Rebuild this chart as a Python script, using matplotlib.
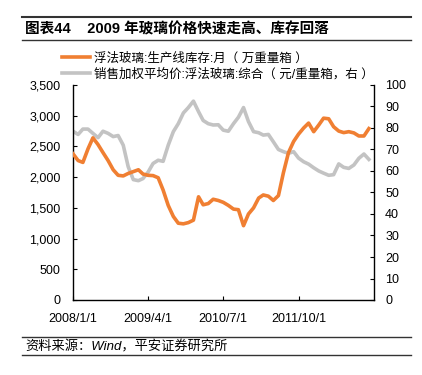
import matplotlib
matplotlib.use("Agg")
import matplotlib.pyplot as plt
import pandas as pd

plt.rcParams['font.family'] = ['Liberation Sans', 'Noto Sans CJK SC', 'DejaVu Sans']

# 月度数据 2008/1 - 2012/12
months = pd.date_range("2008-01-01", periods=60, freq="MS")

inventory = [2380, 2270, 2240, 2460, 2640, 2530, 2400, 2270, 2120, 2030,
             2020, 2060, 2090, 2120, 2050, 2030, 2025, 1990, 1790, 1540,
             1360, 1250, 1240, 1260, 1300, 1680, 1550, 1570, 1640, 1620,
             1590, 1540, 1480, 1470, 1210, 1400, 1500, 1660, 1710, 1690,
             1620, 1700, 2070, 2400, 2580, 2700, 2800, 2880, 2740, 2850,
             2960, 2950, 2820, 2750, 2725, 2740, 2720, 2670, 2670, 2790]

price = [78.5, 77.0, 79.5, 79.5, 77.5, 75.5, 78.5, 77.5, 76.0, 76.5,
         72.0, 62.0, 56.0, 55.5, 56.5, 59.5, 63.5, 65.0, 64.5, 72.0,
         78.3, 82.0, 87.0, 89.5, 92.5, 87.6, 83.5, 82.0, 81.4, 81.5,
         79.0, 78.5, 82.0, 85.0, 89.5, 83.0, 78.3, 77.8, 76.7, 77.0,
         73.6, 70.0, 69.0, 68.2, 69.0, 66.0, 64.3, 63.2, 61.5, 60.0,
         59.0, 58.0, 58.3, 63.3, 61.7, 61.2, 62.8, 65.9, 67.9, 65.4]

label_inv = "浮法玻璃:生产线库存:月（ 万重量箱 ）"
label_price = "销售加权平均价:浮法玻璃:综合（ 元/重量箱，右 ）"
xtick_dates = ["2008-01-01", "2009-04-01", "2010-07-01", "2011-10-01"]

orange = "#F07F32"
gray = "#C3C3C3"

fig = plt.figure(figsize=(4.22, 3.75), dpi=100)
ax = fig.add_axes([73 / 422, 75 / 375, 301 / 422, 215 / 375])
ax2 = ax.twinx()

l1, = ax.plot(months, inventory, color=orange, lw=2.6, label=label_inv, zorder=3)
l2, = ax2.plot(months, price, color=gray, lw=2.6, label=label_price, zorder=2)
ax.set_zorder(ax2.get_zorder() + 1)
ax.patch.set_visible(False)

ax.set_ylim(0, 3500)
ax.set_yticks(range(0, 3501, 500))
ax.set_yticklabels([f"{v:,}" for v in range(0, 3501, 500)])
ax2.set_ylim(0, 100)
ax2.set_yticks(range(0, 101, 10))

ax.set_xlim(pd.Timestamp("2008-01-01"), pd.Timestamp("2013-01-01"))
ticks = [pd.Timestamp(d) for d in xtick_dates]
ax.set_xticks(ticks)
ax.set_xticklabels([f"{t.year}/{t.month}/{t.day}" for t in ticks])

for a in (ax, ax2):
    a.spines['top'].set_visible(False)
    for s in a.spines.values():
        s.set_linewidth(1.0)
        s.set_color("black")
ax.spines['right'].set_visible(False)
ax2.spines['left'].set_visible(False)
ax2.spines['bottom'].set_visible(False)

ax.tick_params(axis='y', direction='in', length=3, pad=9, labelsize=9)
ax.tick_params(axis='x', direction='in', length=3, pad=9, labelsize=9)
ax2.tick_params(axis='y', direction='in', length=3, pad=8, labelsize=9)

fig.legend(handles=[l1, l2], loc='upper left',
           bbox_to_anchor=(62 / 422, 1 - 52.5 / 375), frameon=False,
           fontsize=9, handlelength=2.2, handletextpad=0.4,
           borderpad=0, borderaxespad=0, labelspacing=0.25)

# 标题与来源
fig.add_artist(plt.Line2D([22 / 422, 411 / 422], [1 - 16.5 / 375] * 2, color="#333333", lw=1.5))
fig.add_artist(plt.Line2D([22 / 422, 411 / 422], [1 - 40 / 375] * 2, color="#333333", lw=1.0))
fig.text(25 / 422, 1 - 29 / 375, "图表44    2009 年玻璃价格快速走高、库存回落",
         fontsize=10.5, fontweight='bold', va='center', ha='left')

fig.add_artist(plt.Line2D([22 / 422, 411 / 422], [1 - 337 / 375] * 2, color="#333333", lw=1.0))
fig.add_artist(plt.Line2D([22 / 422, 411 / 422], [1 - 355 / 375] * 2, color="#333333", lw=1.0))
fig.text(25 / 422, 1 - 346.5 / 375, "资料来源：Wind，平安证券研究所",
         fontsize=9.5, style='italic', va='center', ha='left')

fig.savefig("out.png", dpi=100)
